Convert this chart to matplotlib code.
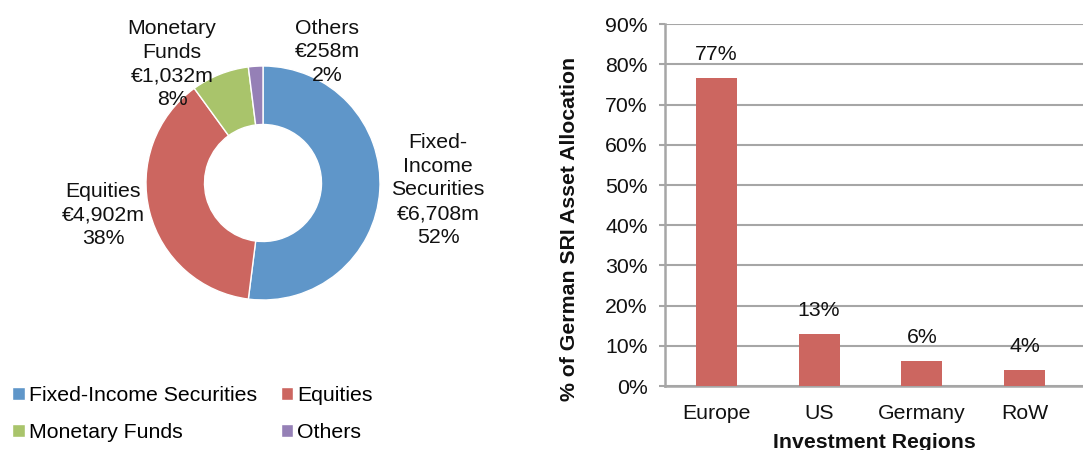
import matplotlib
matplotlib.use("Agg")
import matplotlib.pyplot as plt
from matplotlib.ticker import FuncFormatter

plt.rcParams['font.family'] = ['Liberation Sans', 'DejaVu Sans']

# ---- Data ----
asset_classes = ["Fixed-Income Securities", "Equities", "Monetary Funds", "Others"]
asset_values = [6708, 4902, 1032, 258]          # € million
asset_shares = ["52%", "38%", "8%", "2%"]
asset_colors = ["#5F96C9", "#CC6660", "#A9C46B", "#9580B6"]

regions = ["Europe", "US", "Germany", "RoW"]
region_pct = [76.6, 12.9, 6.2, 4.1]
region_labels = ["77%", "13%", "6%", "4%"]
bar_color = "#CC6660"

FS = 15.3
W, H = 1083, 450
fig = plt.figure(figsize=(W / 100, H / 100), dpi=100)

# ---- Donut ----
R = 117.0      # px per data unit
cx, cy = 263, 183
ax1 = fig.add_axes([0, 1 - 370 / H, 540 / W, 370 / H])
wedges, _ = ax1.pie(asset_values, colors=asset_colors, startangle=90, counterclock=False,
                    radius=1.0, wedgeprops=dict(width=0.5, edgecolor="white", linewidth=1.0))
ax1.set_aspect('auto')
ax1.set_xlim(-cx / R, (540 - cx) / R)
ax1.set_ylim(-(370 - cy) / R, cy / R)


def px(x, y):
    return (x - cx) / R, (cy - y) / R


label_texts = [
    ("Fixed-\nIncome\nSecurities\n€6,708m\n" + asset_shares[0], 438, 190),
    ("Equities\n€4,902m\n" + asset_shares[1], 103, 215),
    ("Monetary\nFunds\n€1,032m\n" + asset_shares[2], 172, 64),
    ("Others\n€258m\n" + asset_shares[3], 327, 52),
]
for txt, x, y in label_texts:
    ax1.text(*px(x, y), txt, ha="center", va="center", fontsize=FS, linespacing=1.32,
             color="#111111")

order = [0, 2, 1, 3]
fig.legend(handles=[wedges[i] for i in order], labels=[asset_classes[i] for i in order],
           loc="upper left", bbox_to_anchor=(12 / W, 1 - 386 / H), ncol=2, frameon=False,
           fontsize=FS, handlelength=0.6, handleheight=0.6, handletextpad=0.2,
           columnspacing=1.1, labelspacing=0.85, borderaxespad=0, borderpad=0)

# ---- Bar chart ----
ax2 = fig.add_axes([665 / W, 1 - 386 / H, (W - 665) / W, (386 - 24.3) / H])
x = list(range(len(regions)))
bars = ax2.bar(x, region_pct, width=0.4, color=bar_color, zorder=3)
ax2.bar_label(bars, labels=region_labels, padding=10, fontsize=FS, color="#111111")
ax2.set_ylim(0, 90)
ax2.set_xlim(-0.5, 3.57)
ax2.set_yticks(range(0, 91, 10))
ax2.yaxis.set_major_formatter(FuncFormatter(lambda v, p: f"{int(v)}%"))
ax2.set_xticks(x)
ax2.set_xticklabels(regions)
ax2.grid(axis="y", color="#A6A6A6", linewidth=1.5, zorder=0)
ax2.set_axisbelow(True)
for s in ["top", "right"]:
    ax2.spines[s].set_visible(False)
for s in ["left", "bottom"]:
    ax2.spines[s].set_color("#A6A6A6")
    ax2.spines[s].set_linewidth(1.8)
ax2.tick_params(axis="y", length=4.5, width=1.5, color="#A6A6A6", pad=8, labelsize=FS,
                labelcolor="#111111")
ax2.tick_params(axis="x", length=0, pad=13, labelsize=FS, labelcolor="#111111")
ax2.set_xlabel("Investment Regions", fontsize=FS, fontweight="bold", labelpad=7,
               color="#111111")
ax2.set_ylabel("% of German SRI Asset Allocation", fontsize=FS, fontweight="bold",
               color="#111111")
ax2.yaxis.set_label_coords(-0.205, 0.435)

fig.savefig("out.png", dpi=100)
